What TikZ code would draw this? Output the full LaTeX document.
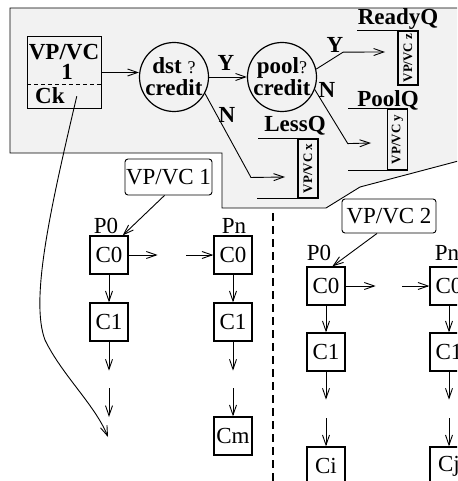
\documentclass[tikz,border=0pt]{standalone}
\usepackage{fontspec}
\setmainfont{Liberation Serif}
\usepackage{tikz}
\usetikzlibrary{arrows.meta,positioning,calc}
\definecolor{panelgray}{HTML}{F2F2F2}

\begin{document}
\begin{tikzpicture}[x=1pt, y=-1pt, >={Straight Barb[length=10pt,width=7pt]},
  every node/.style={font=\fontsize{23}{22}\selectfont},
  lbl/.style={font=\fontsize{23}{22}\selectfont\bfseries},
  flow/.style={->, line width=0.9pt},
  cell/.style={draw, line width=1.3pt, minimum size=38pt, inner sep=0pt},
  vcbox/.style={draw, rounded corners=3pt, line width=0.9pt, inner sep=0pt},
  decide/.style={draw, circle, line width=1.2pt, minimum size=69pt, inner sep=-2pt, align=center, font=\fontsize{23}{22}\selectfont\bfseries},
  qcell/.style={draw, line width=1.3pt, rotate=90, minimum height=20pt, inner sep=0pt, font=\fontsize{13}{13}\selectfont\bfseries},
  qline/.style={line width=1.3pt},
  divider/.style={line width=1.5pt, dash pattern=on 8pt off 5pt}]

  \useasboundingbox (0,0) rectangle (457,481);
  \clip (0,0) rectangle (457,481);

  % upper panel
  \draw[fill=panelgray, line width=0.9pt] (500,150) -- (360,187) -- (326,208) -- (222,208) -- (222,153) -- (10,153) -- (10,8) -- (500,8);

  \node[draw, line width=1.3pt, minimum width=74pt, minimum height=72pt] (vc1) at (64.5,72.5) {};
  \node[lbl, anchor=base] (vcname) at (64,60) {VP/VC};
  \node[lbl, anchor=base] (vcnum) at (67,80) {1};
  \node[lbl, anchor=base west, inner sep=0pt] (ck) at (35,104) {Ck};
  \draw[line width=0.9pt, dash pattern=on 4pt off 3pt] ([yshift=-11.5pt]vc1.west) -- ([yshift=-11.5pt]vc1.east);

  \node[decide] (dst) at (174,77) {dst {\mdseries\fontsize{18}{18}\selectfont ?}\\credit};
  \node[decide] (pool) at (282,77) {pool{\mdseries\fontsize{18}{18}\selectfont ?}\\credit};

  % queues
  \node[qcell, minimum width=54pt] (readyq) at (408,58) {VP/VC z};
  \node[qcell, minimum width=61pt] (poolq) at (397.5,139.5) {VP/VC y};
  \node[qcell, minimum width=59pt] (lessq) at (308,168.5) {VP/VC x};
  \draw[qline] (readyq.north east) -- ++(-40,0);
  \draw[qline] (poolq.north east) -- ++(-39,0);
  \draw[qline] (poolq.north west) -- ++(-39,0);
  \draw[qline] (lessq.north east) -- ++(-39,0);
  \draw[qline] (lessq.north west) -- ++(-40,0);

  \node[lbl, anchor=base] (readylbl) at (398,25) {ReadyQ};
  \node[lbl, anchor=base] (poollbl) at (388,107) {PoolQ};
  \node[lbl, anchor=base] (lesslbl) at (295,132) {LessQ};
  \node[lbl] (ydst) at (226,63) {Y};
  \node[lbl] (ypool) at (335,45) {Y};
  \node[lbl] (ndst) at (227,115) {N};
  \node[lbl] (npool) at (327,90) {N};

  \coordinate (readyin) at (385,52);
  \coordinate (poolin) at (371,143);
  \coordinate (lessin) at (285,177);

  \draw[flow] (vc1.east) -- (vc1.east -| dst.west);
  \draw[flow] (dst) -- (pool);
  \draw[flow] (pool.13) -- ++(27,-17) -- (readyin);
  \draw[flow] (dst.-28) -- ++(46,84) -- (lessin);
  \draw[flow] (pool.-21) -- ++(33,54) -- (poolin);

  % VP/VC 1 chain
  \node[vcbox, minimum width=87pt, minimum height=36pt] (vcone) at (168.5,177) {VP/VC 1};
  \node[cell] (a0) at (109,255) {C0};
  \node[cell] (a1) at (109,322) {C1};
  \node[cell] (b0) at (233,255) {C0};
  \node[cell] (b1) at (233,322) {C1};
  \node[cell] (bm) at (233,436) {Cm};
  \node[anchor=base] (pa) at (106,233) {P0};
  \node[anchor=base] (pb) at (234,233) {Pn};

  \coordinate (ahop) at (186,255);
  \coordinate (agap) at (109,388);
  \coordinate (bgap) at (233,388);
  \coordinate (ckend) at (108,437);

  \draw[flow] ([xshift=-4pt]vcone.south) -- (a0.55);
  \draw[flow] (a0.east) -- ++(29,0);
  \draw[flow] (ahop) -- (b0);
  \draw[flow] (a0) -- (a1);
  \draw[flow] (b0) -- (b1);
  \draw[flow] (a1.south) -- ++(0,29);
  \draw[flow] (agap) -- ++(0,29);
  \draw[flow] (b1.south) -- ++(0,29);
  \draw[flow] (bgap) -- (bm);

  \draw[flow] ([xshift=12pt]ck.east) .. controls (50,210) and (30,300) .. (45,340) .. controls (62,375) and (95,405) .. (ckend);

  \coordinate (divtop) at (273,213);
  \coordinate (divbot) at (273,481);
  \draw[divider] (divtop) -- (divbot);

  % VP/VC 2 chain
  \node[vcbox, minimum width=94pt, minimum height=34pt] (vctwo) at (389,216) {VP/VC 2};
  \node[cell] (c0) at (326,286) {C0};
  \node[cell] (c1) at (326,352) {C1};
  \node[cell] (ci) at (326,466) {Ci};
  \node[cell] (d0) at (449,286) {C0};
  \node[cell] (d1) at (449,352) {C1};
  \node[cell] (dj) at (449,466) {Cj};
  \node[anchor=base] (pc) at (319,260) {P0};
  \node[anchor=base] (pd) at (447,260) {Pn};

  \coordinate (chop) at (402,286);
  \coordinate (cgap) at (326,418);
  \coordinate (dgap) at (449,418);

  \draw[flow] ([xshift=-12pt]vctwo.south) -- (c0.72);
  \draw[flow] (c0.east) -- ++(30,0);
  \draw[flow] (chop) -- (d0);
  \draw[flow] (c0) -- (c1);
  \draw[flow] (d0) -- (d1);
  \draw[flow] (c1.south) -- ++(0,28);
  \draw[flow] (cgap) -- (ci);
  \draw[flow] (d1.south) -- ++(0,28);
  \draw[flow] (dgap) -- (dj);
\end{tikzpicture}
\end{document}
